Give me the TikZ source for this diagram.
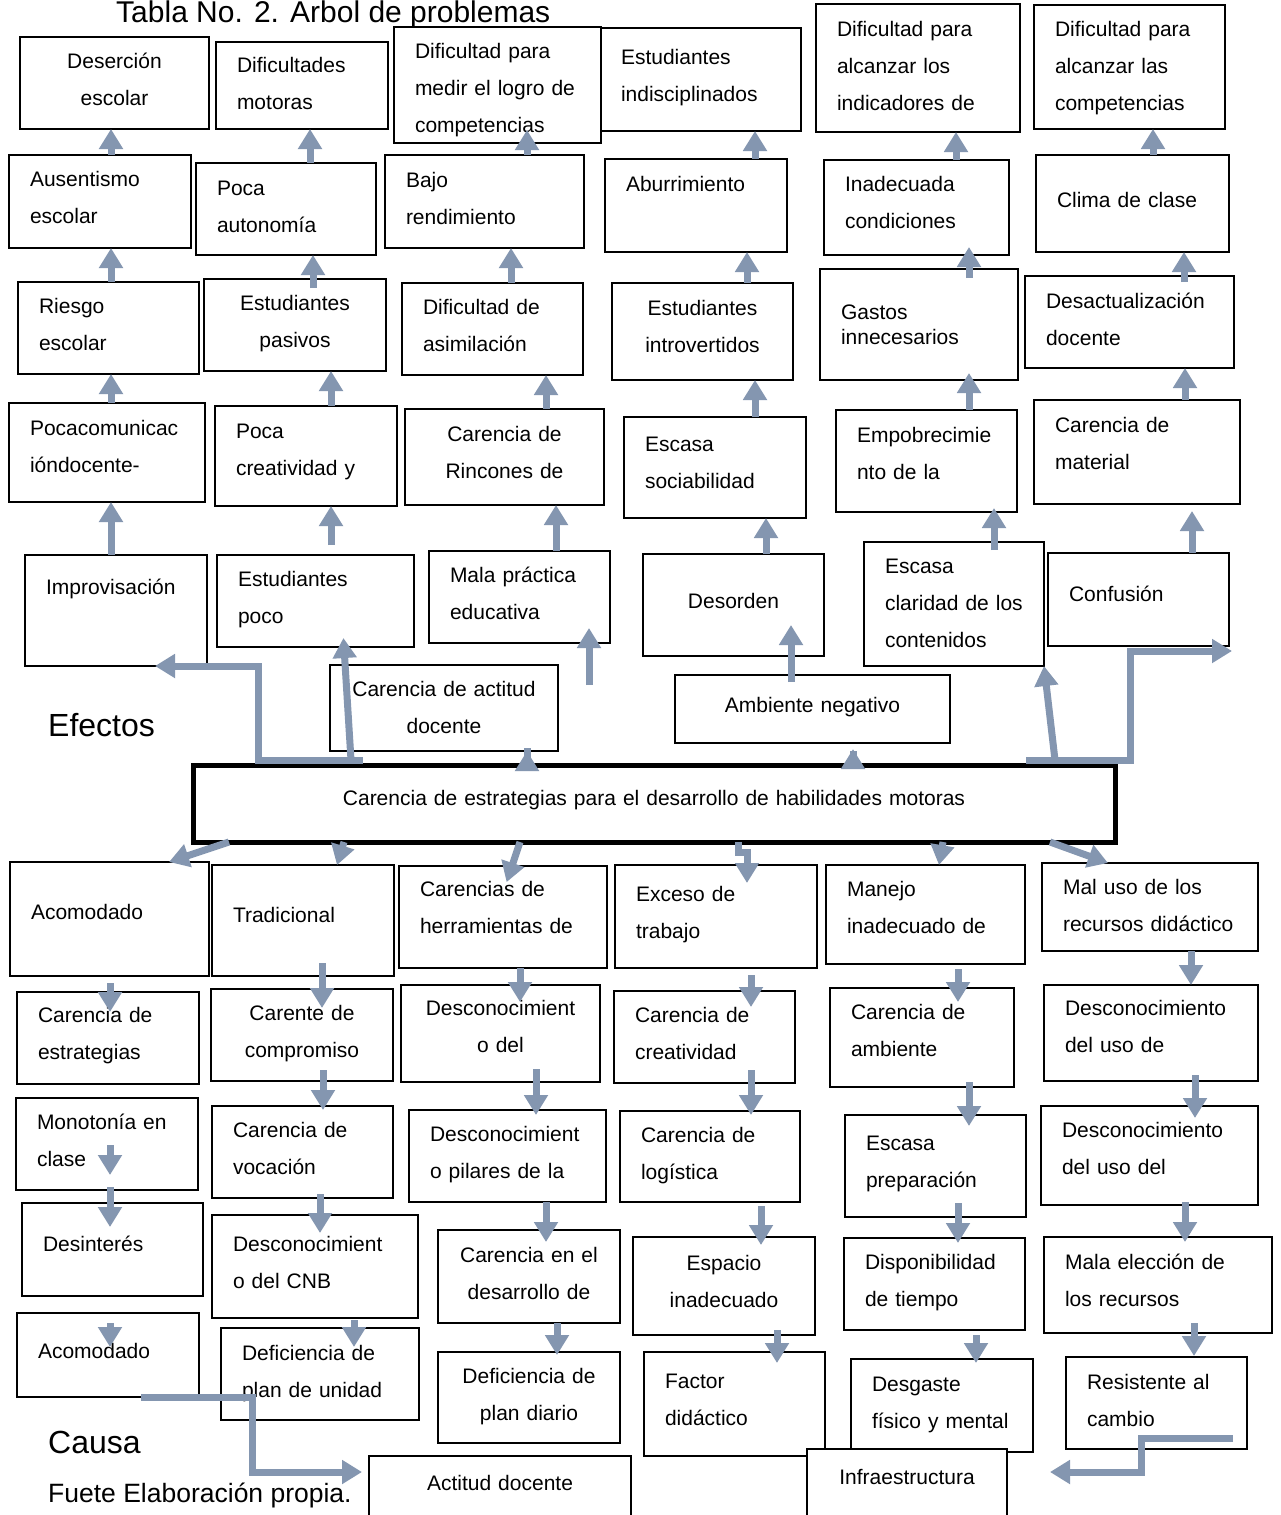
\documentclass[tikz,border=0pt]{standalone}
\usepackage{fontspec}
\setmainfont{Liberation Sans}
\usetikzlibrary{arrows.meta}
\definecolor{arrowc}{HTML}{8496B0}

\begin{document}
\begin{tikzpicture}[
  x=1pt, y=-1pt,
  font=\fontsize{21}{37}\selectfont,
  bx/.style={draw=black, line width=2.5pt, fill=white, anchor=north west, outer sep=0pt, inner ysep=0pt, inner xsep=21pt, align=left},
  cbx/.style={bx, inner xsep=5pt, align=center},
  sz/.style n args={3}{text width=#1pt, text height=#2pt, text depth=#3pt},
  arr/.style={draw=arrowc, line width=7pt, -{Triangle[width=23pt,length=20pt]}},
  lbl/.style={anchor=base west, inner sep=0pt},
  big/.style={font=\fontsize{32}{38}\selectfont}
]
\path[use as bounding box, fill=white] (0,0) rectangle (1280,1515);
% Titles
\node[lbl, font=\fontsize{30}{36}\selectfont] (titulo) at (116,23) {Tabla No. 2. Árbol de problemas};
\node[lbl, big] (efectos) at (48,736) {Efectos};
\node[lbl, big] (causa) at (48,1453) {Causa};
\node[lbl, font=\fontsize{26.5}{30}\selectfont] (fuente) at (48,1502) {Fuete Elaboración propia.};
% Effects: row 1
\node[cbx, sz={179}{31}{61}] (deser) at (20,37) {Deserción\\escolar};
\node[bx, sz={130}{30}{57}] (difmot) at (216,42) {Dificultades\\motoras};
\node[bx, sz={159}{36}{67}] (estind) at (600,28) {Estudiantes\\indisciplinados};
\node[bx, sz={165}{31}{85}] (difmed) at (394,27) {Dificultad para\\medir el logro de\\competencias};
\node[bx, sz={162}{32}{96}] (difind) at (816,4) {Dificultad para\\alcanzar los\\indicadores de};
\node[bx, sz={149}{31}{93}] (difcomp) at (1034,5) {Dificultad para\\alcanzar las\\competencias};
% Effects: row 2
\node[bx, sz={140}{31}{62}] (ausent) at (9,155) {Ausentismo\\escolar};
\node[bx, sz={138}{32}{60}] (pocaaut) at (196,163) {Poca\\autonomía};
\node[bx, sz={157}{32}{61}] (bajo) at (385,155) {Bajo\\rendimiento};
\node[bx, sz={140}{32}{61}] (aburr) at (605,159) {Aburrimiento};
\node[bx, sz={143}{31}{64}] (inadec) at (824,160) {Inadecuada\\condiciones};
\node[bx, sz={151}{52}{45}] (clima) at (1036,155) {Clima de clase};
% Effects: row 3
\node[bx, sz={139}{31}{61}] (riesgo) at (18,282) {Riesgo\\escolar};
\node[cbx, sz={172}{31}{61}] (estpas) at (204,279) {Estudiantes\\pasivos};
\node[bx, sz={139}{31}{61}] (difasim) at (402,283) {Dificultad de\\asimilación};
\node[cbx, sz={171}{32}{65}] (estintro) at (612,283) {Estudiantes\\introvertidos};
\node[bx, sz={156}{50}{61}] (gastos) at (820,269) {Gastos\\[-12pt]innecesarios};
\node[bx, sz={167}{32}{60}] (desact) at (1025,276) {Desactualización\\docente};
% Effects: row 4
\node[bx, sz={154}{32}{67}] (pocacom) at (9,403) {Pocacomunicac\\ióndocente-};
\node[bx, sz={140}{32}{68}] (pocacre) at (215,406) {Poca\\creatividad y};
\node[cbx, sz={189}{32}{64}] (carrinc) at (405,409) {Carencia de\\Rincones de};
\node[bx, sz={140}{34}{67}] (escsoc) at (624,417) {Escasa\\sociabilidad};
\node[bx, sz={139}{32}{70}] (empobr) at (836,410) {Empobrecimie\\nto de la};
\node[bx, sz={164}{32}{72}] (carmat) at (1034,400) {Carencia de\\material};
% Effects: row 5
\node[bx, sz={140}{39}{72}] (improv) at (25,555) {Improvisación};
\node[bx, sz={155}{31}{61}] (estpoco) at (217,555) {Estudiantes\\poco};
\node[bx, sz={139}{31}{61}] (malapr) at (429,551) {Mala práctica\\educativa};
\node[cbx, sz={171}{54}{48}] (desorden) at (643,554) {Desorden};
\node[bx, sz={138}{31}{93}] (escclar) at (864,542) {Escasa\\claridad de los\\contenidos};
\node[bx, sz={139}{48}{45}] (confus) at (1048,553) {Confusión};
% Effects: row 6
\node[cbx, sz={218}{31}{55}] (caract) at (330,665) {Carencia de actitud\\docente};
\node[cbx, sz={265}{37}{31}] (ambneg) at (675,675) {Ambiente negativo};
% Central problem
\node[cbx, line width=5pt, sz={912}{40}{37}] (central) at (193,765) {Carencia de estrategias para el desarrollo de habilidades motoras};
% Causes: row 1
\node[bx, sz={157}{57}{57}] (acom) at (10,862) {Acomodado};
\node[bx, sz={140}{57}{54}] (trad) at (212,865) {Tradicional};
\node[bx, sz={166}{30}{72}] (carherr) at (399,866) {Carencias de\\herramientas de};
\node[bx, sz={160}{36}{67}] (exceso) at (615,865) {Exceso de\\trabajo};
\node[bx, sz={157}{31}{68}] (manejo) at (826,865) {Manejo\\inadecuado de};
\node[bx, sz={174}{31}{57}] (maluso) at (1042,863) {Mal uso de los\\recursos didáctico};
% Causes: row 2
\node[bx, sz={140}{30}{62}] (carestr) at (17,992) {Carencia de\\estrategias};
\node[cbx, sz={172}{31}{61}] (carente) at (211,989) {Carente de\\compromiso};
\node[cbx, sz={189}{30}{67}] (descdel) at (401,985) {Desconocimient\\o del};
\node[bx, sz={139}{31}{61}] (carcrea) at (614,991) {Carencia de\\creatividad};
\node[bx, sz={142}{31}{68}] (caramb) at (830,988) {Carencia de\\ambiente};
\node[bx, sz={172}{30}{66}] (descde) at (1044,985) {Desconocimiento\\del uso de};
% Causes: row 3
\node[bx, sz={140}{31}{61}] (mono) at (16,1098) {Monotonía en\\clase};
\node[bx, sz={139}{31}{61}] (vocac) at (212,1106) {Carencia de\\vocación};
\node[bx, sz={155}{31}{61}] (descpil) at (409,1110) {Desconocimient\\o pilares de la};
\node[bx, sz={138}{31}{60}] (logist) at (620,1111) {Carencia de\\logística};
\node[bx, sz={139}{35}{67}] (escprep) at (845,1115) {Escasa\\preparación};
\node[bx, sz={175}{31}{68}] (descuso) at (1041,1106) {Desconocimiento\\del uso del};
% Causes: row 4
\node[bx, sz={139}{48}{45}] (desint) at (22,1203) {Desinterés};
\node[bx, sz={164}{36}{67}] (cnb) at (212,1215) {Desconocimient\\o del CNB};
\node[cbx, sz={172}{32}{61}] (cardes) at (438,1230) {Carencia en el\\desarrollo de};
\node[cbx, sz={172}{33}{65}] (espacio) at (633,1237) {Espacio\\inadecuado};
\node[bx, sz={139}{31}{61}] (dispon) at (844,1238) {Disponibilidad\\de tiempo};
\node[bx, sz={186}{32}{64}] (malaelec) at (1044,1237) {Mala elección de\\los recursos};
% Causes: row 5
\node[bx, sz={140}{45}{39}] (acomb) at (17,1313) {Acomodado};
\node[bx, sz={156}{32}{60}] (defuni) at (221,1328) {Deficiencia de\\plan de unidad};
\node[cbx, sz={172}{31}{60}] (defdia) at (438,1352) {Deficiencia de\\plan diario};
\node[bx, sz={139}{36}{68}] (factor) at (644,1352) {Factor\\didáctico};
\node[bx, sz={140}{32}{61}] (desgaste) at (851,1359) {Desgaste\\físico y mental};
\node[bx, sz={139}{32}{60}] (resist) at (1066,1357) {Resistente al\\cambio};
% Causes: bottom
\node[cbx, sz={252}{34}{40}] (actitud) at (369,1456) {Actitud docente};
\node[cbx, sz={190}{35}{41}] (infra) at (807,1449) {Infraestructura};
% Effect arrows
\draw[arr] (ausent.north -| 111,0) -- (deser.south -| 111,0);
\draw[arr] (riesgo.north -| 111,0) -- (ausent.south -| 111,0);
\draw[arr] (pocacom.north -| 111,0) -- (riesgo.south -| 111,0);
\draw[arr] (improv.north -| 111,0) -- (pocacom.south -| 111,0);
\draw[arr] (pocaaut.north -| 310,0) -- (difmot.south -| 310,0);
\draw[arr, shorten <=-9pt] (estpas.north -| 313,0) -- (pocaaut.south -| 313,0);
\draw[arr] (pocacre.north -| 331,0) -- (estpas.south -| 331,0);
\draw[arr, shorten <=10pt] (estpoco.north -| 331,0) -- (pocacre.south -| 331,0);
\draw[arr, shorten >=-13pt] (bajo.north -| 527,0) -- (difmed.south -| 527,0);
\draw[arr] (difasim.north -| 511,0) -- (bajo.south -| 511,0);
\draw[arr] (carrinc.north -| 546,0) -- (difasim.south -| 546,0);
\draw[arr] (malapr.north -| 556,0) -- (carrinc.south -| 556,0);
\draw[arr] (aburr.north -| 755,0) -- (estind.south -| 755,0);
\draw[arr] (estintro.north -| 747,0) -- (aburr.south -| 747,0);
\draw[arr] (escsoc.north -| 755,0) -- (estintro.south -| 755,0);
\draw[arr] (desorden.north -| 766,0) -- (escsoc.south -| 766,0);
\draw[arr] (inadec.north -| 956,0) -- (difind.south -| 956,0);
\draw[arr, shorten <=-9pt, shorten >=-8pt] (gastos.north -| 969,0) -- (inadec.south -| 969,0);
\draw[arr, shorten >=-7pt] (empobr.north -| 969,0) -- (gastos.south -| 969,0);
\draw[arr, shorten <=-8pt, shorten >=-4pt] (escclar.north -| 994,0) -- (empobr.south -| 994,0);
\draw[arr] (clima.north -| 1153,0) -- (difcomp.south -| 1153,0);
\draw[arr, shorten <=-6pt] (desact.north -| 1184,0) -- (clima.south -| 1184,0);
\draw[arr] (carmat.north -| 1185,0) -- (desact.south -| 1185,0);
\draw[arr, shorten >=7pt] (confus.north -| 1192,0) -- (carmat.south -| 1192,0);
% Central problem to effects
\coordinate (ctop) at ([yshift=5pt]central.north);
\coordinate (mpfree) at (589,685);
\draw[arr, shorten <=-17pt] (central.north -| 527,0) -- (caract.south -| 527,0);
\draw[arr, shorten <=-14pt, shorten >=6pt] (central.north -| 853,0) -- (ambneg.south -| 853,0);
\draw[arr, shorten <=-7pt, shorten >=-31pt] (ambneg.north -| 791,0) -- (desorden.south -| 791,0);
\draw[arr, shorten >=-15pt] (mpfree) -- (malapr.south -| 589,0);
\draw[arr, shorten >=39pt] (ctop -| 363,0) -- (ctop -| 258,0) |- (improv.south);
\draw[arr, shorten >=-9pt] (ctop -| 351,0) -- (estpoco.south -| 344,0);
\draw[arr] (ctop -| 1026,0) -- (ctop -| 1130,0) |- ([xshift=3pt,yshift=-5pt]confus.south east);
\draw[arr] (ctop -| 1055,0) -- (escclar.south east);
% Central problem to causes
\draw[arr] (central.south -| 229,0) -- (acom.north -| 169,0);
\draw[arr] (central.south -| 344,0) -- (trad.north -| 337,0);
\draw[arr, shorten >=-17pt] (central.south -| 520,0) -- (carherr.north -| 512,0);
\draw[arr, shorten >=-18pt] (central.south -| 738,0) -- ++(0,10) -| (exceso.north -| 747,0);
\draw[arr] (central.south -| 943,0) -- (manejo.north -| 939,0);
\draw[arr] (central.south -| 1050,0) -- (maluso.north -| 1108,0);
% Cause arrows
\coordinate (monoA) at (110,1145);
\coordinate (monoB) at (110,1175);
\draw[arr, shorten <=7pt, shorten >=-20pt] (acom.south -| 110,0) -- (carestr.north -| 110,0);
\draw[arr] (monoA) -- (monoB);
\draw[arr, shorten <=-3pt, shorten >=-24pt] (mono.south -| 110,0) -- (desint.north -| 110,0);
\draw[arr, shorten <=27pt, shorten >=-34pt] (desint.south -| 110,0) -- (acomb.north -| 110,0);
\draw[arr, shorten >=7pt] (acomb.south -| 141,0) -- (acomb.south -| 252,0) |- ([yshift=-16pt]actitud.north west);
\draw[arr, shorten <=-13pt, shorten >=-19pt] (trad.south -| 322,0) -- (carente.north -| 322,0);
\draw[arr, shorten <=-11pt, shorten >=-4pt] (carente.south -| 323,0) -- (vocac.north -| 323,0);
\draw[arr, shorten <=-4pt, shorten >=-18pt] (vocac.south -| 320,0) -- (cnb.north -| 320,0);
\draw[arr, shorten <=2pt, shorten >=-19pt] (cnb.south -| 354,0) -- (defuni.north -| 354,0);
\draw[arr, shorten >=-17pt] (carherr.south -| 520,0) -- (descdel.north -| 520,0);
\draw[arr, shorten <=-13pt, shorten >=-5pt] (descdel.south -| 536,0) -- (descpil.north -| 536,0);
\draw[arr, shorten >=-12pt] (descpil.south -| 546,0) -- (cardes.north -| 546,0);
\draw[arr, shorten >=-3pt] (cardes.south -| 557,0) -- (defdia.north -| 557,0);
\draw[arr, shorten <=7pt, shorten >=-16pt] (exceso.south -| 751,0) -- (carcrea.north -| 751,0);
\draw[arr, shorten <=-13pt, shorten >=-4pt] (carcrea.south -| 751,0) -- (logist.north -| 751,0);
\draw[arr, shorten <=4pt, shorten >=-8pt] (logist.south -| 761,0) -- (espacio.north -| 761,0);
\draw[arr, shorten <=-5pt, shorten >=-11pt] (espacio.south -| 777,0) -- (factor.north -| 777,0);
\draw[arr, shorten <=5pt, shorten >=-14pt] (manejo.south -| 958,0) -- (caramb.north -| 958,0);
\draw[arr, shorten <=-5pt, shorten >=-11pt] (caramb.south -| 969,0) -- (escprep.north -| 969,0);
\draw[arr, shorten <=-14pt, shorten >=-5pt] (escprep.south -| 958,0) -- (dispon.north -| 958,0);
\draw[arr, shorten <=5pt, shorten >=-4pt] (dispon.south -| 976,0) -- (desgaste.north -| 976,0);
\draw[arr] (maluso.south -| 1191,0) -- (descde.north -| 1191,0);
\draw[arr, shorten <=-6pt, shorten >=-12pt] (descde.south -| 1195,0) -- (descuso.north -| 1195,0);
\draw[arr, shorten <=-3pt, shorten >=-5pt] (descuso.south -| 1185,0) -- (malaelec.north -| 1185,0);
\draw[arr, shorten <=-10pt, shorten >=1pt] (malaelec.south -| 1194,0) -- (resist.north -| 1194,0);
\coordinate (infarr) at ([xshift=43pt,yshift=-23pt]infra.north east);
\draw[arr] ([xshift=-14pt,yshift=11pt]resist.south east) -| (infarr -| 1141,0) -- (infarr);
\end{tikzpicture}
\end{document}
